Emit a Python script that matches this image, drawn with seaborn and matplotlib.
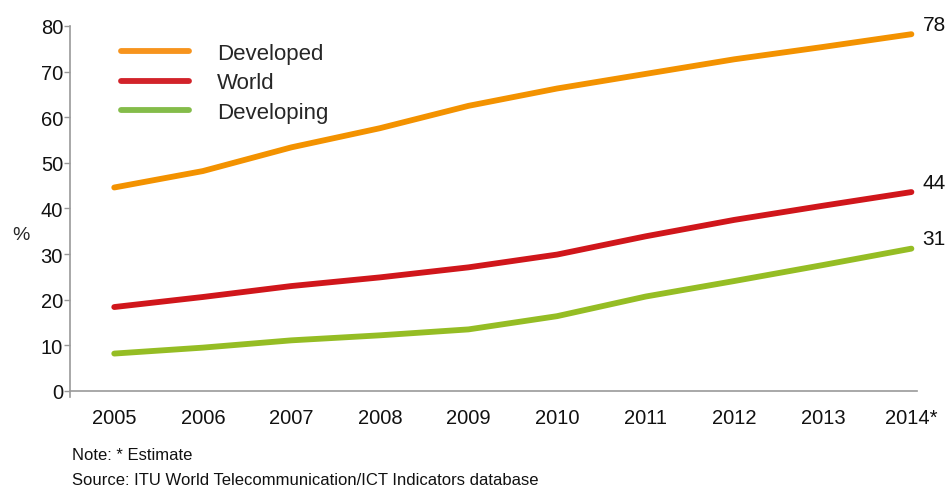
import pandas as pd
import matplotlib
matplotlib.use("Agg")
import matplotlib.pyplot as plt
import seaborn as sns

# ─── Data ────────────────────────────────────────────────────────
years = [2005, 2006, 2007, 2008, 2009, 2010, 2011, 2012, 2013, 2014]
year_labels = ["2005", "2006", "2007", "2008", "2009", "2010",
               "2011", "2012", "2013", "2014*"]
developed = [44.6, 48.2, 53.4, 57.6, 62.5, 66.3, 69.5, 72.7, 75.4, 78.2]
world = [18.4, 20.6, 23.0, 24.9, 27.1, 29.9, 33.9, 37.5, 40.6, 43.6]
developing = [8.2, 9.5, 11.1, 12.2, 13.5, 16.4, 20.7, 24.1, 27.6, 31.2]
series_names = ["Developed", "World", "Developing"]
end_labels = ["78", "44", "31"]

COLORS = {"Developed": "#F39200", "World": "#D0161B", "Developing": "#95BD24"}

df = pd.DataFrame({
    "year": years * 3,
    "value": developed + world + developing,
    "series": sum([[n] * len(years) for n in series_names], []),
})

# ─── Style ───────────────────────────────────────────────────────
sns.set_style("white")
plt.rcParams["font.family"] = ["Liberation Sans", "DejaVu Sans"]
plt.rcParams["font.size"] = 14

fig = plt.figure(figsize=(9.48, 4.89), dpi=100)
ax = fig.add_axes([0.0738, 0.1984, 0.967 - 0.0738, 0.9448 - 0.1984])

sns.lineplot(data=df, x="year", y="value", hue="series",
             hue_order=series_names, palette=COLORS,
             linewidth=4.2, ax=ax, legend=False)
for line in ax.lines:
    line.set_solid_capstyle("round")

# end labels
for name, vals, lab in zip(series_names, [developed, world, developing], end_labels):
    ax.annotate(lab, (years[-1], vals[-1]), xytext=(8, 7),
                textcoords="offset points", fontsize=15, color="#111",
                ha="left", va="center")

ax.set_xlim(2004.5, 2014.06)
ax.set_ylim(0, 80)
ax.set_yticks(range(0, 81, 10))
ax.set_xticks(years)
ax.set_xticklabels(year_labels)
ax.tick_params(axis="x", length=0, pad=12, labelsize=14.5, colors="#111")
ax.tick_params(axis="y", length=4, width=1, pad=1, labelsize=14.5,
               color="#999", labelcolor="#111", left=True)

for s in ["top", "right"]:
    ax.spines[s].set_visible(False)
for s in ["left", "bottom"]:
    ax.spines[s].set_color("#999")
    ax.spines[s].set_linewidth(1.2)
ax.spines["left"].set_bounds(-1.3, 80)

ax.set_xlabel("")
ax.set_ylabel("%", rotation=0, fontsize=14, labelpad=14, va="center")
ax.yaxis.set_label_coords(-0.058, 0.43)

# legend
handles = [plt.Line2D([], [], color=c, linewidth=4.2) for c in
           ["#F7941D", "#D2232A", "#84BC4A"]]
ax.legend(handles, series_names, loc="upper left",
          bbox_to_anchor=(0.037, 1.009), frameon=False, fontsize=16,
          handlelength=3.06, handletextpad=1.26, labelspacing=0.39)

# notes
note_font = ["Liberation Sans Narrow", "Liberation Sans", "DejaVu Sans"]
fig.text(72 / 948, 1 - 456 / 489, "Note: * Estimate", fontsize=12,
         family=note_font, va="center", color="#111")
fig.text(72 / 948, 1 - 481 / 489,
         "Source: ITU World Telecommunication/ICT Indicators database",
         fontsize=12, family=note_font, va="center", color="#111")

fig.savefig("out.png", dpi=100)
